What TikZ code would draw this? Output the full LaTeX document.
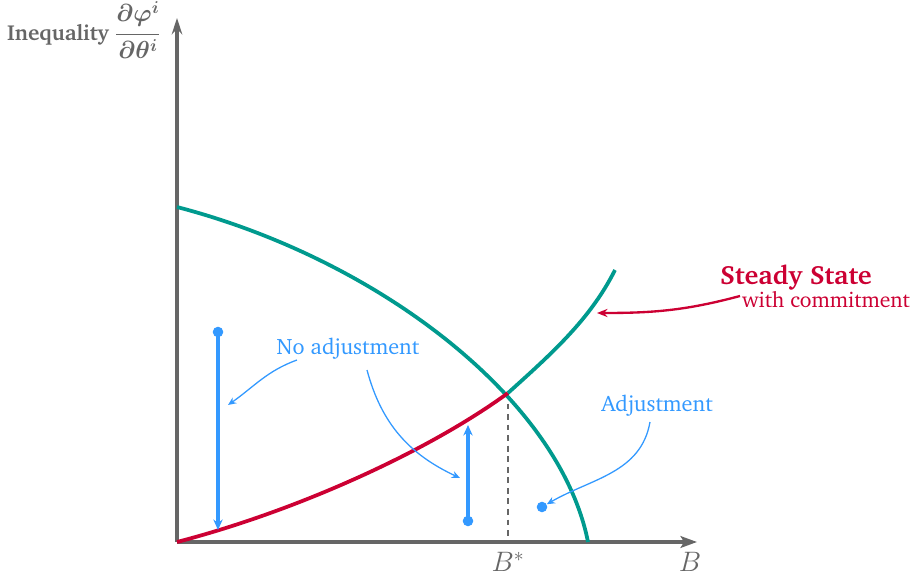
\RequirePackage{fix-cm}
\documentclass[tikz,border=0pt]{standalone}
\usepackage{amsmath}
\usepackage[T1]{fontenc}
\usepackage{charter}
\usetikzlibrary{arrows.meta}
\definecolor{PolicyTeal}{HTML}{009A8E}
\definecolor{PolicyRed}{HTML}{CC0033}
\definecolor{PolicyBlue}{HTML}{3399FF}
\definecolor{PolicyGray}{HTML}{666666}

\begin{document}
\begin{tikzpicture}[x=0.03cm, y=0.03cm, >=Stealth,
   axis/.style={PolicyGray, line width=3pt},
   curve/.style={line width=3.2pt},
   move/.style={PolicyBlue, line width=3pt, -{Stealth[length=9pt,width=8pt]}},
   note/.style={PolicyBlue, line width=1.1pt, -{Stealth[length=7pt,width=6pt]}},
   dot/.style={circle, fill=PolicyBlue, inner sep=0pt, minimum size=9pt},
   lbl/.style={font=\fontsize{19}{22}\selectfont},
   axlbl/.style={PolicyGray, font=\fontsize{24}{28}\selectfont, inner sep=1pt, anchor=north}]
  \useasboundingbox (-177,-34) rectangle (739,542);
  % axes
  \coordinate (o) at (0,0);
  \coordinate (ytop) at (0,524);
  \coordinate (xend) at (520,0);
  \draw[axis, -{Stealth[length=14pt,width=9pt]}] (o) -- (ytop);
  \draw[axis, -{Stealth[length=14pt,width=10pt,inset=3pt]}] (o) -- (xend);
  \node[PolicyGray, anchor=east, font=\fontsize{18.5}{22}\selectfont\bfseries\boldmath] (ylab) at (-12,512)
    {Inequality {\fontsize{21}{25}\selectfont$\dfrac{\partial\varphi^i}{\partial\theta^i}$}};
  \node[axlbl] (xlab) at (513,-9) {$B$};
  % curves
  \coordinate (ss) at (331,149);
  \coordinate (bstar) at (331,0);
  \draw[PolicyGray, line width=1.2pt, dash pattern=on 5pt off 4pt] (ss) -- (bstar);
  \node[axlbl] (bslab) at (331,-9) {$B^*$};
  \draw[curve, PolicyTeal] (0,335) .. controls (203,282) and (383,142) .. (411,0);
  \draw[curve, PolicyRed] (o) .. controls (123,32) and (253,92) .. (ss);
  \draw[curve, PolicyTeal] (ss) .. controls (373,187) and (413,222) .. (438,272);
  % moves
  \node[dot] (m1) at (41,210) {};
  \coordinate (m1e) at (41,12);
  \draw[move] (m1.center) -- (m1e);
  \node[dot] (m2) at (291,21) {};
  \coordinate (m2e) at (291,117);
  \draw[move] (m2.center) -- (m2e);
  \node[dot] (m3) at (365,35) {};
  % labels
  \node[PolicyBlue, lbl] (noadj) at (171,193) {No adjustment};
  \coordinate (n1) at (51,137);
  \coordinate (n2) at (283,64);
  \draw[note] (120,182) to[out=200, in=35] (n1);
  \draw[note] (190,172) to[out=-75, in=155] (n2);
  \node[PolicyBlue, lbl] (adj) at (480,136) {Adjustment};
  \draw[note] (473,120) to[out=-100, in=30] (m3);
  \node[PolicyRed, font=\fontsize{22.5}{26}\selectfont\bfseries] (ssl) at (619,265) {Steady State};
  \node[PolicyRed, font=\fontsize{18.5}{22}\selectfont] (ssw) at (649,242) {with commitment};
  \coordinate (sst) at (420,229);
  \draw[PolicyRed, line width=2pt, -{Stealth[length=9pt,width=7pt]}] (563,246) to[out=195, in=0] (sst);
\end{tikzpicture}
\end{document}
